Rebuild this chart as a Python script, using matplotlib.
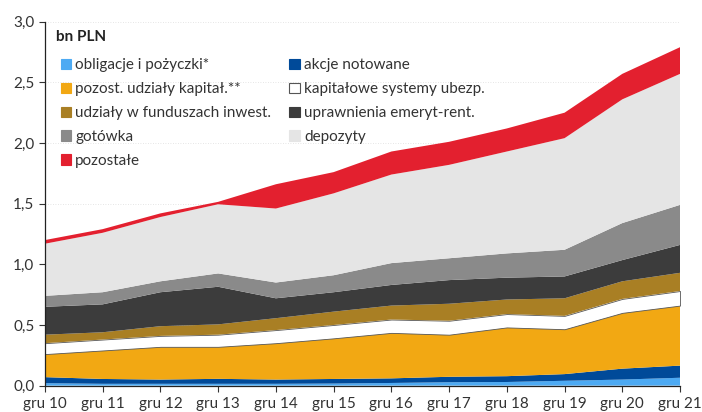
import numpy as np
import matplotlib.pyplot as plt
from matplotlib.patches import Patch
from matplotlib.ticker import FuncFormatter

plt.rcParams['font.family'] = ['Lato', 'DejaVu Sans']

# data (bn PLN), one value per year end
years = ['gru 10', 'gru 11', 'gru 12', 'gru 13', 'gru 14', 'gru 15',
         'gru 16', 'gru 17', 'gru 18', 'gru 19', 'gru 20', 'gru 21']

obligacje = [0.020, 0.015, 0.015, 0.015, 0.015, 0.017, 0.022, 0.028, 0.030, 0.040, 0.050, 0.065]
akcje = [0.050, 0.040, 0.035, 0.041, 0.035, 0.038, 0.038, 0.045, 0.048, 0.055, 0.090, 0.100]
pozost_udzialy = [0.190, 0.235, 0.270, 0.264, 0.300, 0.335, 0.375, 0.347, 0.402, 0.370, 0.460, 0.495]
kapitalowe = [0.090, 0.090, 0.090, 0.100, 0.108, 0.110, 0.110, 0.115, 0.110, 0.110, 0.115, 0.120]
fundusze = [0.070, 0.060, 0.080, 0.085, 0.098, 0.110, 0.115, 0.140, 0.120, 0.145, 0.145, 0.150]
uprawnienia = [0.230, 0.230, 0.280, 0.310, 0.164, 0.160, 0.170, 0.195, 0.180, 0.180, 0.175, 0.230]
gotowka = [0.090, 0.100, 0.090, 0.110, 0.130, 0.140, 0.180, 0.180, 0.200, 0.220, 0.305, 0.330]
depozyty = [0.430, 0.490, 0.530, 0.570, 0.610, 0.675, 0.730, 0.770, 0.840, 0.920, 1.020, 1.080]
pozostale = [0.030, 0.030, 0.030, 0.020, 0.200, 0.175, 0.190, 0.190, 0.190, 0.210, 0.210, 0.220]

series = [obligacje, akcje, pozost_udzialy, kapitalowe, fundusze,
          uprawnienia, gotowka, depozyty, pozostale]
labels = ['obligacje i pożyczki*', 'akcje notowane', 'pozost. udziały kapitał.**',
          'kapitałowe systemy ubezp.', 'udziały w funduszach inwest.',
          'uprawnienia emeryt-rent.', 'gotówka', 'depozyty', 'pozostałe']
colors = ['#4DAAF3', '#004A99', '#F2A813', '#FFFFFF', '#A97F24',
          '#3C3C3C', '#8A8A8A', '#E5E5E5', '#E3202F']

fig = plt.figure(figsize=(7.02, 4.12), dpi=100)
ax = fig.add_axes([0.064, 0.064, 0.9047, 0.8833])

x = np.arange(len(years))
polys = ax.stackplot(x, *series, colors=colors, linewidth=0)
# thin outline around the white band
polys[3].set_edgecolor('#555555')
polys[3].set_linewidth(0.6)

ax.set_xlim(0, len(years) - 1)
ax.set_ylim(0, 3.0)
ax.set_xticks(x)
ax.set_xticklabels(years)
ax.set_yticks(np.arange(0, 3.01, 0.5))
ax.yaxis.set_major_formatter(FuncFormatter(lambda v, p: ('%.1f' % v).replace('.', ',')))
ax.tick_params(labelsize=11, colors='#333333', length=4, width=0.8)
ax.tick_params(axis='x', pad=4)

ax.yaxis.grid(True, color='#DDDDDD', linestyle=(0, (1, 2)), linewidth=0.6)
ax.set_axisbelow(True)

for side in ['top', 'right']:
    ax.spines[side].set_visible(False)
for side in ['left', 'bottom']:
    ax.spines[side].set_color('#222222')
    ax.spines[side].set_linewidth(0.9)

# unit label above the legend
ax.text(0.017, 0.958, 'bn PLN', transform=ax.transAxes, fontsize=11,
        fontweight='bold', color='#222222', ha='left', va='center')

# legend: filled squares, row-major order in two columns
order = [0, 2, 4, 6, 8, 1, 3, 5, 7]
handles = [Patch(facecolor=colors[i], edgecolor='#555555' if i == 3 else colors[i],
                 linewidth=0.8) for i in order]
leg = ax.legend(handles, [labels[i] for i in order], ncol=2, frameon=False,
                loc='upper left', bbox_to_anchor=(0.003, 0.937),
                fontsize=11, handlelength=0.7, handleheight=0.7,
                handletextpad=0.25, labelspacing=0.65, columnspacing=1.2)
for t in leg.get_texts():
    t.set_color('#333333')

fig.savefig('out.png', dpi=100)
